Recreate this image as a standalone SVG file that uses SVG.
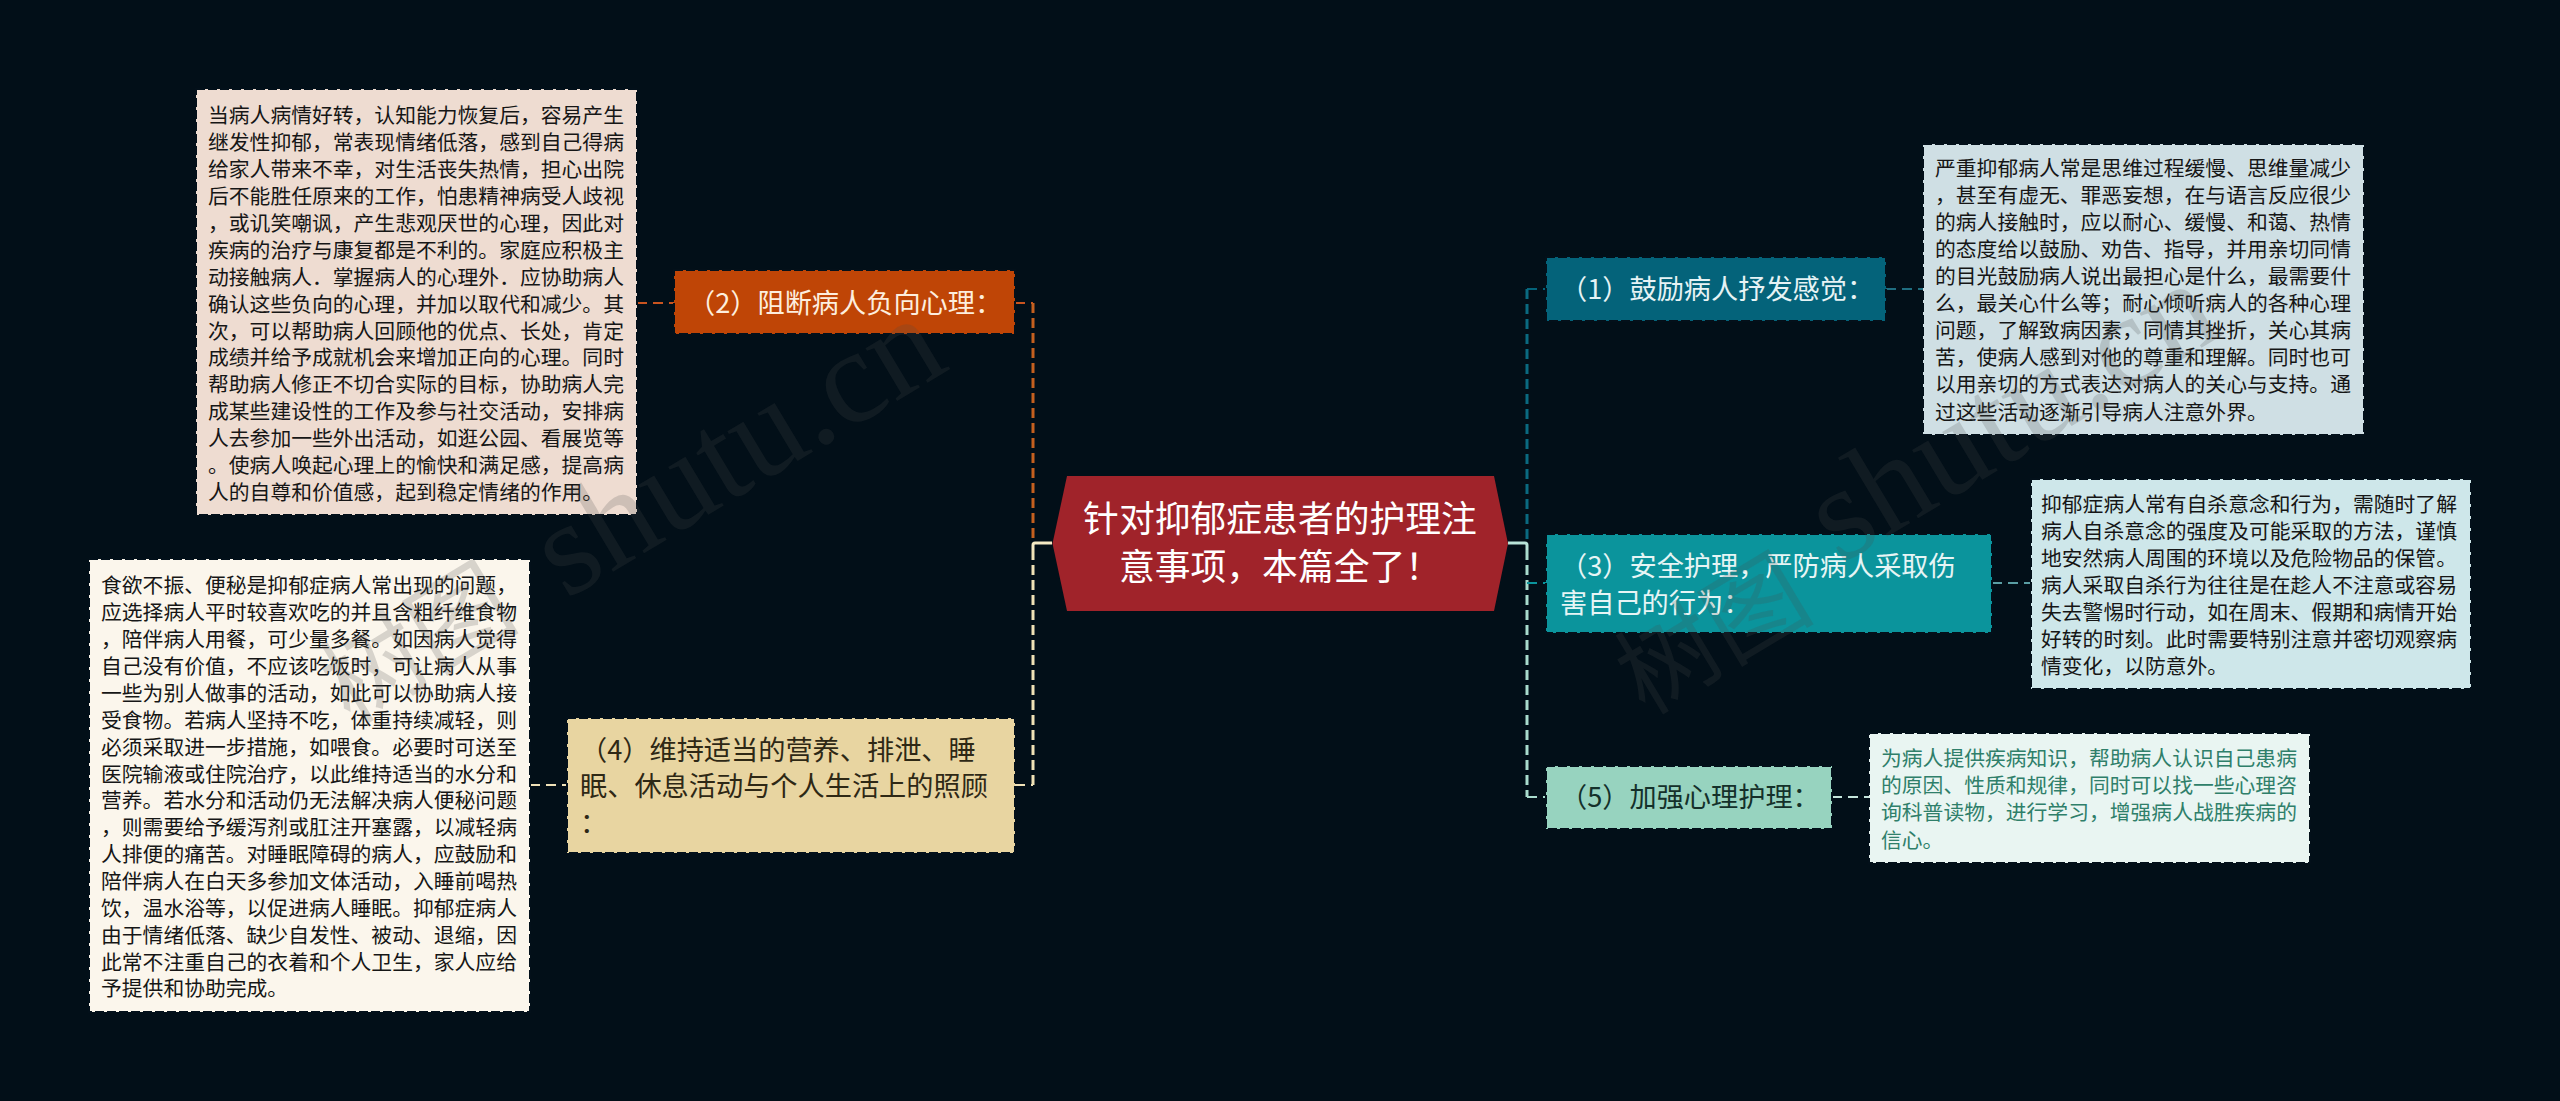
<svg xmlns="http://www.w3.org/2000/svg" width="2560" height="1101" viewBox="0 0 2560 1101">
<style>
text{font-family:"Noto Sans CJK SC","Noto Sans",sans-serif}
.edge{stroke:#03101a;stroke-width:2;stroke-dasharray:9 3}
.note{font-size:20.8px;fill:#161616}
.branch{font-size:27.2px}
.c{fill:none}
.trunk{stroke-width:3;stroke-dasharray:10 5}
.leaf{stroke-width:2;stroke-dasharray:10 6}
.wm{font-size:100px;fill:#4d4d4d;fill-opacity:.2}
.wm.s{font-family:"Liberation Serif",serif;font-size:134px}
</style>
<rect width="2560" height="1101" fill="#020f18"/>
<g id="connectors" class="c">
<path class="leaf" stroke="#c9541f" d="M637 303H674"/>
<path class="leaf" stroke="#c9541f" d="M1015 303H1033"/>
<path class="trunk" stroke="#c4601f" d="M1033 303V543"/>
<path class="leaf" stroke="#f0e2b8" d="M530 785H567"/>
<path class="leaf" stroke="#f0e2b8" d="M1015 785H1033"/>
<path class="trunk" stroke="#efe2b6" d="M1033 550V785"/>
<path d="M1052 543H1035Q1033 543 1033 545V550" stroke="#f5eac4" stroke-width="3"/>
<path class="leaf" stroke="#1f6d80" d="M1886 289H1923"/>
<path class="leaf" stroke="#04637a" d="M1527 289H1546"/>
<path class="trunk" stroke="#0a6a80" d="M1527 289V543"/>
<path d="M1508 543H1525Q1527 543 1527 545V550" stroke="#b8e4d8" stroke-width="3"/>
<path class="trunk" stroke="#a9dccd" d="M1527 550V797"/>
<path class="leaf" stroke="#0b949c" d="M1527 583H1546"/>
<path class="leaf" stroke="#5a9ea4" d="M1992 583H2031"/>
<path class="leaf" stroke="#a9dccd" d="M1527 797H1546"/>
<path class="leaf" stroke="#c4e5db" d="M1832 797H1869"/>
</g>
<g id="center">
<polygon points="1067,476 1494,476 1508,543.5 1494,611 1067,611 1052.5,543.5" fill="#a0232a"/>
<text x="1280" y="532" font-size="35.8" text-anchor="middle" fill="#fff">针对抑郁症患者的护理注</text>
<text x="1280" y="580" font-size="35.8" text-anchor="middle" fill="#fff">意事项，本篇全了！</text>
</g>
<g id="node-2">
<rect class="edge" x="674" y="270" width="341" height="64" fill="#bf4506"/>
<text class="branch" x="688" y="313" fill="#fdeede">（2）阻断病人负向心理：</text>
</g>
<g id="note-2">
<rect class="edge" x="196" y="89" width="441" height="426" fill="#eedcd1"/>
<g class="note">
<text x="208" y="123">当病人病情好转，认知能力恢复后，容易产生</text>
<text x="208" y="150">继发性抑郁，常表现情绪低落，感到自己得病</text>
<text x="208" y="177">给家人带来不幸，对生活丧失热情，担心出院</text>
<text x="208" y="204">后不能胜任原来的工作，怕患精神病受人歧视</text>
<text x="208" y="231">，或讥笑嘲讽，产生悲观厌世的心理，因此对</text>
<text x="208" y="258">疾病的治疗与康复都是不利的。家庭应积极主</text>
<text x="208" y="285">动接触病人．掌握病人的心理外．应协助病人</text>
<text x="208" y="312">确认这些负向的心理，并加以取代和减少。其</text>
<text x="208" y="339">次，可以帮助病人回顾他的优点、长处，肯定</text>
<text x="208" y="365">成绩并给予成就机会来增加正向的心理。同时</text>
<text x="208" y="392">帮助病人修正不切合实际的目标，协助病人完</text>
<text x="208" y="419">成某些建设性的工作及参与社交活动，安排病</text>
<text x="208" y="446">人去参加一些外出活动，如逛公园、看展览等</text>
<text x="208" y="473">。使病人唤起心理上的愉快和满足感，提高病</text>
<text x="208" y="500">人的自尊和价值感，起到稳定情绪的作用。</text>
</g>
</g>
<g id="node-4">
<rect class="edge" x="567" y="718" width="448" height="135" fill="#e8d5a1"/>
<text class="branch" x="580" y="760" fill="#2e2815">（4）维持适当的营养、排泄、睡</text>
<text class="branch" x="580" y="796" fill="#2e2815">眠、休息活动与个人生活上的照顾</text>
<text class="branch" x="580" y="833" fill="#2e2815">：</text>
</g>
<g id="note-4">
<rect class="edge" x="89" y="559" width="441" height="453" fill="#fbf6ec"/>
<g class="note">
<text x="101" y="593">食欲不振、便秘是抑郁症病人常出现的问题，</text>
<text x="101" y="620">应选择病人平时较喜欢吃的并且含粗纤维食物</text>
<text x="101" y="647">，陪伴病人用餐，可少量多餐。如因病人觉得</text>
<text x="101" y="674">自己没有价值，不应该吃饭时，可让病人从事</text>
<text x="101" y="701">一些为别人做事的活动，如此可以协助病人接</text>
<text x="101" y="728">受食物。若病人坚持不吃，体重持续减轻，则</text>
<text x="101" y="755">必须采取进一步措施，如喂食。必要时可送至</text>
<text x="101" y="782">医院输液或住院治疗，以此维持适当的水分和</text>
<text x="101" y="808">营养。若水分和活动仍无法解决病人便秘问题</text>
<text x="101" y="835">，则需要给予缓泻剂或肛注开塞露，以减轻病</text>
<text x="101" y="862">人排便的痛苦。对睡眠障碍的病人，应鼓励和</text>
<text x="101" y="889">陪伴病人在白天多参加文体活动，入睡前喝热</text>
<text x="101" y="916">饮，温水浴等，以促进病人睡眠。抑郁症病人</text>
<text x="101" y="943">由于情绪低落、缺少自发性、被动、退缩，因</text>
<text x="101" y="970">此常不注重自己的衣着和个人卫生，家人应给</text>
<text x="101" y="996">予提供和协助完成。</text>
</g>
</g>
<g id="node-1">
<rect class="edge" x="1546" y="257" width="340" height="64" fill="#04637a"/>
<text class="branch" x="1560" y="299" fill="#e6f3f5">（1）鼓励病人抒发感觉：</text>
</g>
<g id="note-1">
<rect class="edge" x="1923" y="144" width="441" height="291" fill="#cfdfe4"/>
<g class="note">
<text x="1935" y="176">严重抑郁病人常是思维过程缓慢、思维量减少</text>
<text x="1935" y="203">，甚至有虚无、罪恶妄想，在与语言反应很少</text>
<text x="1935" y="230">的病人接触时，应以耐心、缓慢、和蔼、热情</text>
<text x="1935" y="257">的态度给以鼓励、劝告、指导，并用亲切同情</text>
<text x="1935" y="284">的目光鼓励病人说出最担心是什么，最需要什</text>
<text x="1935" y="311">么，最关心什么等；耐心倾听病人的各种心理</text>
<text x="1935" y="338">问题，了解致病因素，同情其挫折，关心其病</text>
<text x="1935" y="365">苦，使病人感到对他的尊重和理解。同时也可</text>
<text x="1935" y="392">以用亲切的方式表达对病人的关心与支持。通</text>
<text x="1935" y="420">过这些活动逐渐引导病人注意外界。</text>
</g>
</g>
<g id="node-3">
<rect class="edge" x="1546" y="534" width="446" height="99" fill="#0b949c"/>
<text class="branch" x="1560" y="576" fill="#e6f5f5">（3）安全护理，严防病人采取伤</text>
<text class="branch" x="1560" y="613" fill="#e6f5f5">害自己的行为：</text>
</g>
<g id="note-3">
<rect class="edge" x="2031" y="479" width="440" height="210" fill="#cee7ea"/>
<g class="note">
<text x="2041" y="512">抑郁症病人常有自杀意念和行为，需随时了解</text>
<text x="2041" y="539">病人自杀意念的强度及可能采取的方法，谨慎</text>
<text x="2041" y="566">地安然病人周围的环境以及危险物品的保管。</text>
<text x="2041" y="593">病人采取自杀行为往往是在趁人不注意或容易</text>
<text x="2041" y="620">失去警惕时行动，如在周末、假期和病情开始</text>
<text x="2041" y="647">好转的时刻。此时需要特别注意并密切观察病</text>
<text x="2041" y="674">情变化，以防意外。</text>
</g>
</g>
<g id="node-5">
<rect class="edge" x="1546" y="766" width="286" height="63" fill="#97d3bf"/>
<text class="branch" x="1560" y="807" fill="#14302a">（5）加强心理护理：</text>
</g>
<g id="note-5">
<rect class="edge" x="1869" y="733" width="441" height="130" fill="#e9f5f2"/>
<g class="note" style="fill:#2f7f6a">
<text x="1881" y="766">为病人提供疾病知识，帮助病人认识自己患病</text>
<text x="1881" y="793">的原因、性质和规律，同时可以找一些心理咨</text>
<text x="1881" y="820">询科普读物，进行学习，增强病人战胜疾病的</text>
<text x="1881" y="848">信心。</text>
</g>
</g>
<g id="watermarks">
<text class="wm" transform="translate(350 725) rotate(-31)">树图</text>
<text class="wm s" transform="translate(566 600) rotate(-31)">shutu.cn</text>
<text class="wm" transform="translate(1645 716) rotate(-31)">树图</text>
<text class="wm s" transform="translate(1840 565) rotate(-31)">shutu.cn</text>
</g>
</svg>
